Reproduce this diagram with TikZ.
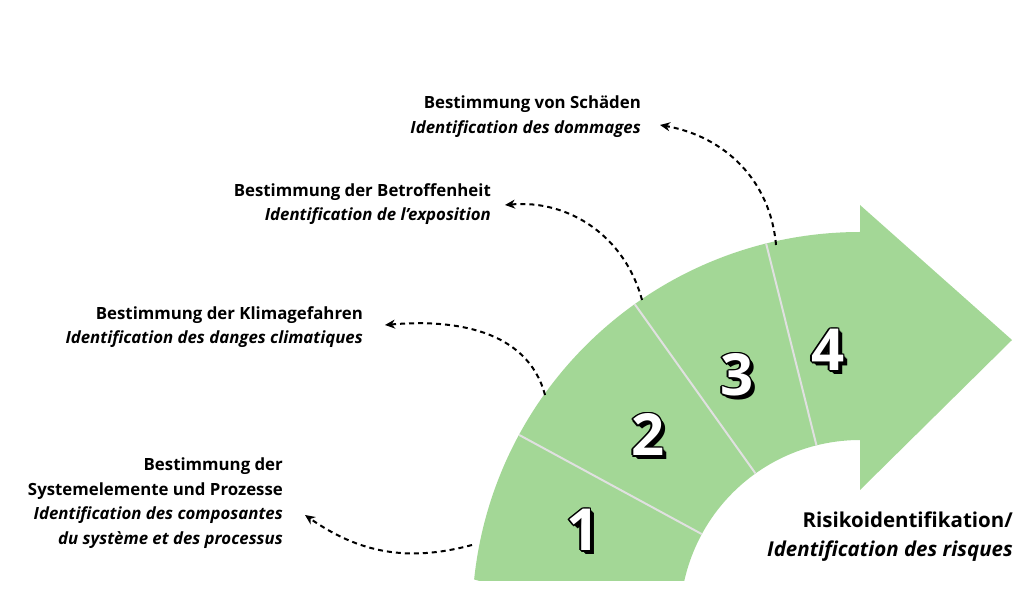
\documentclass[tikz,border=0pt]{standalone}
\usepackage{fontspec}
\setmainfont{Open Sans}
\usetikzlibrary{arrows.meta,calc}
\definecolor{bandgreen}{HTML}{A3D796}
\newcommand{\stepnum}[3]{%
  \foreach \dx/\dy in {3/-3,4/-4,2/-2,-1.5/0,1.5/0,0/1.5,0/-1.5,-1.1/1.1,1.1/1.1,-1.1/-1.1,1.1/-1.1}
    \node[numtext, text=black] at ($(#1)+(\dx,\dy)$) {#2};
  \node[numtext, text=white] (#3) at (#1) {#2};}
\newcommand{\fr}[1]{\textbf{\textit{#1}}}

\begin{document}
\begin{tikzpicture}[
    x=1pt, y=1pt,
    numtext/.style={font=\fontsize{58}{58}\selectfont\bfseries, inner sep=0pt},
    lab/.style={align=right, inner sep=0pt, font=\fontsize{16.8}{24.5}\selectfont},
    sep/.style={draw=white!88!black, line width=2pt},
    dashline/.style={-{Stealth[length=10pt,width=9pt]}, line width=2pt, dash pattern=on 5pt off 4pt}
  ]
  \useasboundingbox (0,0) rectangle (1024,594);
  \coordinate (c) at (860,-26);

  % curved arrow band
  \begin{scope}
    \clip (0,14) rectangle (1024,594);
    \fill[bandgreen] ($(c)+(174:388)$) arc[start angle=174, end angle=90, radius=388]
      -- (860,389) -- (1012,254) -- (860,104) -- (860,154)
      arc[start angle=90, end angle=186, radius=180] -- cycle;
  \end{scope}

  % separators
  \foreach \a in {151.5,125.5,104}
    \draw[sep] ($(c)+(\a:180)$) -- ($(c)+(\a:388)$);

  % step numbers
  \stepnum{583,64}{1}{n1}
  \stepnum{648,159}{2}{n2}
  \stepnum{737,219}{3}{n3}
  \stepnum{828,244}{4}{n4}

  % labels
  \node[lab, anchor=north east] (l1) at (283,136) {\textbf{Bestimmung der}\\ \textbf{Systemelemente und Prozesse}\\ \fr{Identification des composantes}\\ \fr{du système et des processus}};
  \node[lab, anchor=north east] (l2) at (363,288) {\textbf{Bestimmung der Klimagefahren}\\ \fr{Identification des danges climatiques}};
  \node[lab, anchor=north east] (l3) at (491,411) {\textbf{Bestimmung der Betroffenheit}\\ \fr{Identification de l’exposition}};
  \node[lab, anchor=north east] (l4) at (641,498) {\textbf{Bestimmung von Schäden}\\ \fr{Identification des dommages}};
  \node[align=right, inner sep=0pt, anchor=north east, font=\fontsize{20.5}{29}\selectfont] (risk) at (1013,82) {\textbf{Risikoidentifikation/}\\ \fr{Identification des risques}};

  % dashed connectors
  \coordinate (s1) at (472,49);  \coordinate (t1) at (305,79);
  \coordinate (s2) at (545,199); \coordinate (t2) at (385,269);
  \coordinate (s3) at (642,294); \coordinate (t3) at (505,389);
  \coordinate (s4) at (776,349); \coordinate (t4) at (660,469);
  \draw[dashline] (s1) to[out=195, in=-35] (t1);
  \draw[dashline] (s2) to[out=105, in=5] (t2);
  \draw[dashline] (s3) to[out=105, in=5] (t3);
  \draw[dashline] (s4) to[out=95, in=-10] (t4);
\end{tikzpicture}
\end{document}
